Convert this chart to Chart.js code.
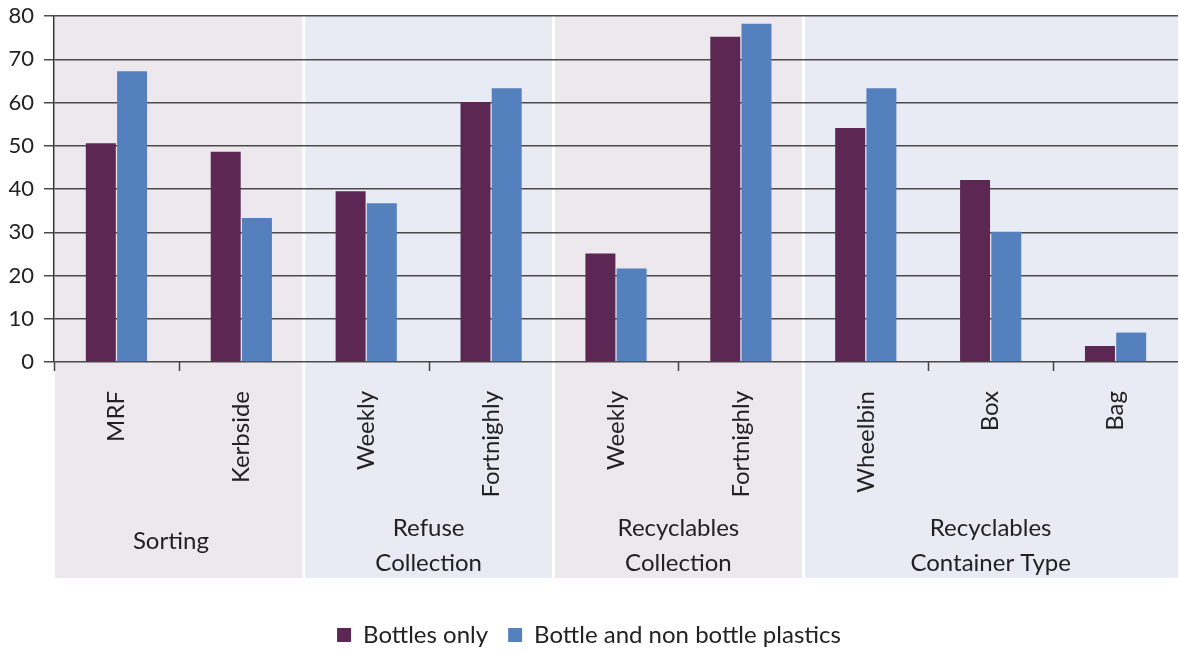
<!DOCTYPE html>
<html>
<head>
<meta charset="utf-8">
<script src="https://cdn.jsdelivr.net/npm/chart.js@4/dist/chart.umd.min.js"></script>
<style>
  html, body { margin: 0; padding: 0; background: #fff; }
  #wrap { width: 1179px; height: 651px; }
</style>
</head>
<body>
<div id="wrap"><canvas id="plastics"></canvas></div>
<script>
// categories along the x axis and the groups they belong to
const categories = ['MRF', 'Kerbside', 'Weekly', 'Fortnighly', 'Weekly', 'Fortnighly', 'Wheelbin', 'Box', 'Bag'];
const groupNames = [['Sorting'], ['Refuse', 'Collection'], ['Recyclables', 'Collection'], ['Recyclables', 'Container Type']];
const groupStart = [0, 2, 4, 6];
const groupEnd = [1, 3, 5, 8];
const groupColours = ['#ede7ee', '#e8eaf4', '#ede7ee', '#e8eaf4'];

// series values
const bottlesOnly = [50.6, 48.6, 39.5, 60.1, 25.1, 75.2, 54.1, 42.1, 3.7];
const bottleAndNonBottle = [67.2, 33.3, 36.7, 63.3, 21.6, 78.2, 63.3, 30.1, 6.8];

const yTicks = [0, 10, 20, 30, 40, 50, 60, 70, 80];

const FONT = 'Lato, "Noto Sans", sans-serif';
const bandBottom = 578;

const groupBands = {
    id: 'groupBands',
    beforeDraw(chart) {
        const ctx = chart.ctx;
        const x = chart.scales.x;
        const area = chart.chartArea;
        ctx.save();
        groupStart.forEach((s, i) => {
            let left = x.getPixelForValue(s - 0.5);
            let right = x.getPixelForValue(groupEnd[i] + 0.5);
            left = i === 0 ? area.left + 1 : left + 1.5;
            right = i === groupStart.length - 1 ? area.right : right - 1.5;
            ctx.fillStyle = groupColours[i];
            ctx.fillRect(left, area.top, right - left, bandBottom - area.top);
        });
        ctx.restore();
    },
    afterDraw(chart) {
        const ctx = chart.ctx;
        const x = chart.scales.x;
        const area = chart.chartArea;
        ctx.save();
        // tick marks between categories inside each group
        ctx.strokeStyle = '#444';
        ctx.lineWidth = 1.5;
        const boundaries = [-0.5];
        groupStart.forEach((s, i) => {
            for (let k = s; k < groupEnd[i]; k++) boundaries.push(k + 0.5);
        });
        boundaries.forEach(b => {
            const px = Math.round(x.getPixelForValue(b)) + 0.5;
            ctx.beginPath();
            ctx.moveTo(px, area.bottom);
            ctx.lineTo(px, area.bottom + 9);
            ctx.stroke();
        });
        // group labels
        ctx.fillStyle = '#222';
        ctx.font = '24px ' + FONT;
        ctx.textAlign = 'center';
        ctx.textBaseline = 'middle';
        groupNames.forEach((lines, i) => {
            const cx = (x.getPixelForValue(groupStart[i] - 0.5) + x.getPixelForValue(groupEnd[i] + 0.5)) / 2;
            if (lines.length === 1) {
                ctx.fillText(lines[0], cx - 8, 541);
            } else {
                ctx.fillText(lines[0], cx, 528);
                ctx.fillText(lines[1], cx, 563);
            }
        });
        ctx.restore();
    }
};

new Chart(document.getElementById('plastics'), {
    type: 'bar',
    data: {
        labels: categories,
        datasets: [
            {
                label: 'Bottles only',
                data: bottlesOnly,
                backgroundColor: '#5c2752',
                barPercentage: 0.96,
                categoryPercentage: 0.5
            },
            {
                label: 'Bottle and non bottle plastics',
                data: bottleAndNonBottle,
                backgroundColor: '#5580be',
                barPercentage: 0.96,
                categoryPercentage: 0.5
            }
        ]
    },
    options: {
        responsive: true,
        maintainAspectRatio: false,
        animation: false,
        layout: { autoPadding: false, padding: { top: 16, right: 1, left: 0, bottom: -6 } },
        plugins: {
            tooltip: { enabled: false },
            legend: {
                position: 'bottom',
                labels: {
                    font: { family: FONT, size: 24 },
                    color: '#222',
                    boxWidth: 14,
                    boxHeight: 14,
                    padding: 20
                }
            }
        },
        scales: {
            x: {
                grid: { display: false },
                border: { display: false },
                ticks: {
                    minRotation: 90,
                    maxRotation: 90,
                    padding: 21,
                    autoSkip: false,
                    color: '#222',
                    font: { family: FONT, size: 24 }
                },
                afterFit(scale) { scale.height = 241; }
            },
            y: {
                min: 0,
                max: 80,
                afterBuildTicks(scale) { scale.ticks = yTicks.map(v => ({ value: v })); },
                grid: { color: '#4a4a4a', lineWidth: 1.5, tickLength: 10 },
                border: { color: '#333', width: 1.5 },
                ticks: {
                    padding: 10,
                    color: '#222',
                    font: { family: FONT, size: 22 }
                },
                afterFit(scale) {
                    scale.width = 54;
                    // the top label may sit above the plot area
                    scale.paddingTop = 0;
                }
            }
        }
    },
    plugins: [groupBands]
});
</script>
</body>
</html>
